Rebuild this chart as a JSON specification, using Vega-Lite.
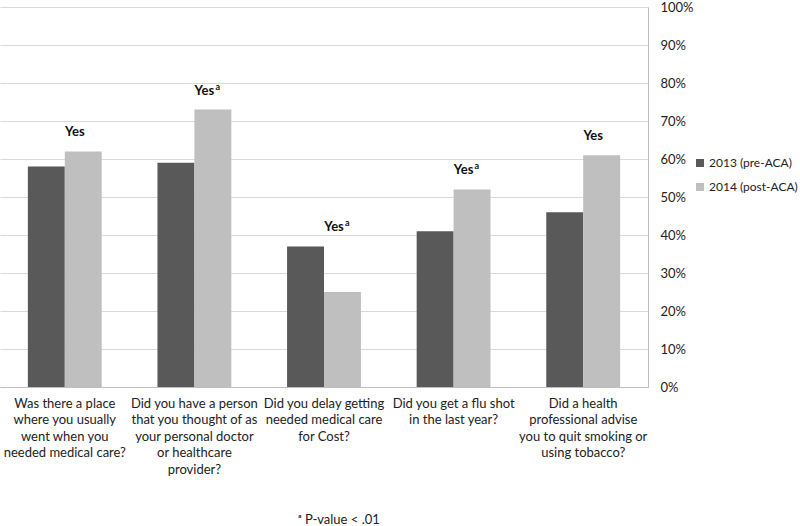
{
  "$schema": "https://vega.github.io/schema/vega-lite/v6.json",
  "width": 648,
  "height": 380,
  "autosize": {"type": "none"},
  "padding": {"left": 0, "top": 7, "right": 152, "bottom": 139},
  "background": "white",
  "config": {
    "font": "Lato",
    "view": {"stroke": null},
    "axis": {"labelFont": "Lato", "labelColor": "#222222", "labelFontSize": 13}
  },
  "datasets": {
    "bars": [
      {"q": "Was there a place|where you usually|went when you|needed medical care?", "year": "2013 (pre-ACA)", "pct": 58},
      {"q": "Was there a place|where you usually|went when you|needed medical care?", "year": "2014 (post-ACA)", "pct": 62},
      {"q": "Did you have a person|that you thought of as|your personal doctor|or healthcare|provider?", "year": "2013 (pre-ACA)", "pct": 59},
      {"q": "Did you have a person|that you thought of as|your personal doctor|or healthcare|provider?", "year": "2014 (post-ACA)", "pct": 73},
      {"q": "Did you delay getting|needed medical care|for Cost?", "year": "2013 (pre-ACA)", "pct": 37},
      {"q": "Did you delay getting|needed medical care|for Cost?", "year": "2014 (post-ACA)", "pct": 25},
      {"q": "Did you get a flu shot|in the last year?", "year": "2013 (pre-ACA)", "pct": 41},
      {"q": "Did you get a flu shot|in the last year?", "year": "2014 (post-ACA)", "pct": 52},
      {"q": "Did a health|professional advise|you to quit smoking or|using tobacco?", "year": "2013 (pre-ACA)", "pct": 46},
      {"q": "Did a health|professional advise|you to quit smoking or|using tobacco?", "year": "2014 (post-ACA)", "pct": 61}
    ],
    "notes": [
      {"q": "Was there a place|where you usually|went when you|needed medical care?", "pct": 62, "label": "Yes", "sup": ""},
      {"q": "Did you have a person|that you thought of as|your personal doctor|or healthcare|provider?", "pct": 73, "label": "Yes", "sup": "a"},
      {"q": "Did you delay getting|needed medical care|for Cost?", "pct": 37, "label": "Yes", "sup": "a"},
      {"q": "Did you get a flu shot|in the last year?", "pct": 52, "label": "Yes", "sup": "a"},
      {"q": "Did a health|professional advise|you to quit smoking or|using tobacco?", "pct": 61, "label": "Yes", "sup": ""}
    ]
  },
  "title": {
    "text": "ᵃ P-value < .01",
    "orient": "bottom",
    "anchor": "start",
    "dx": 298,
    "offset": 38,
    "fontSize": 13,
    "fontWeight": "normal",
    "font": "Lato",
    "color": "#222222"
  },
  "encoding": {
    "x": {
      "field": "q", "type": "nominal", "sort": null,
      "scale": {"paddingInner": 0.43, "paddingOuter": 0.215},
      "axis": {
        "title": null, "labelAngle": 0, "ticks": false,
        "domainColor": "#bfbfbf", "labelPadding": 10,
        "labelExpr": "split(datum.value, '|')", "labelLineHeight": 16.5,
        "labelBaseline": "top"
      }
    },
    "y": {
      "field": "pct", "type": "quantitative",
      "scale": {"domain": [0, 100]},
      "axis": {
        "orient": "right", "title": null,
        "values": [0, 10, 20, 30, 40, 50, 60, 70, 80, 90, 100],
        "labelExpr": "datum.value + '%'",
        "ticks": false, "labelPadding": 12,
        "domainColor": "#bfbfbf", "gridColor": "#d9d9d9", "grid": true
      }
    }
  },
  "layer": [
    {
      "data": {"name": "bars"},
      "mark": {"type": "bar"},
      "encoding": {
        "xOffset": {"field": "year", "type": "nominal", "sort": null, "scale": {"paddingInner": 0, "paddingOuter": 0}},
        "color": {
          "field": "year", "type": "nominal", "sort": null,
          "scale": {"range": ["#595959", "#bfbfbf"]},
          "legend": {
            "title": null, "orient": "none", "legendX": 694, "legendY": 150,
            "symbolType": "square", "symbolSize": 64, "symbolStrokeWidth": 0,
            "labelFontSize": 12, "labelFont": "Lato", "labelColor": "#222222",
            "rowPadding": 12, "labelOffset": 3
          }
        }
      }
    },
    {
      "data": {"name": "notes"},
      "mark": {"type": "text", "fontWeight": "bold", "fontSize": 13, "font": "Lato", "color": "#111111", "baseline": "middle", "dy": -19, "dx": 10},
      "encoding": {
        "text": {"field": "label"}
      }
    },
    {
      "data": {"name": "notes"},
      "mark": {"type": "text", "fontWeight": "bold", "fontSize": 9, "font": "Lato", "color": "#111111", "baseline": "middle", "align": "left", "dy": -23, "dx": 21},
      "encoding": {
        "text": {"field": "sup"}
      }
    }
  ]
}
